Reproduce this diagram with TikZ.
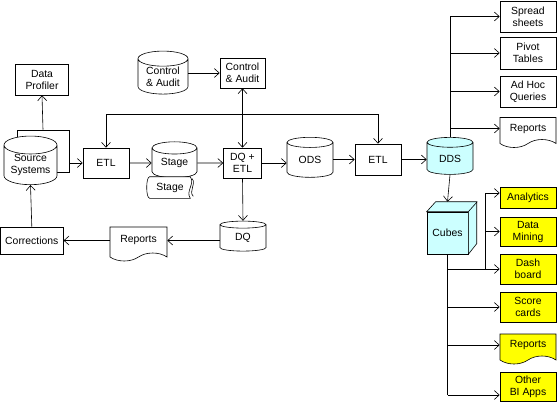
\documentclass[tikz,border=0pt]{standalone}
\usepackage{fontspec}
\setmainfont{Liberation Sans}
\usetikzlibrary{shapes.geometric,shapes.symbols,arrows.meta}
\definecolor{cubecyan}{RGB}{204,255,255}
\definecolor{appyellow}{RGB}{255,255,0}
\tikzset{
  box/.style={draw, rectangle, inner sep=0pt, align=center, fill=white},
  db/.style={draw, cylinder, shape border rotate=90, aspect=0.45, inner sep=0pt, align=center, fill=white},
  doc/.style={draw, tape, tape bend top=none, tape bend height=8pt, inner sep=0pt, align=center, fill=white},
  app/.style={box, minimum width=56pt},
}
\begin{document}
\begin{tikzpicture}[x=1pt, y=-1pt, >={Straight Barb[length=5pt,width=9pt]},
    font=\fontsize{10.4}{12}\selectfont, line width=0.6pt]
    \useasboundingbox (0,0) rectangle (557,402);

    % sources and profiling
    \node[db, minimum width=52pt, minimum height=42pt] (srcb) at (43,151) {};
    \node[db, minimum width=53pt, minimum height=40pt] (src) at (30.5,165) {Source\\Systems};
    \node[box, minimum width=53pt, minimum height=31pt] (prof) at (42,79.5) {Data\\Profiler};
    \node[box, minimum width=46pt, minimum height=30pt] (etlA) at (106,163) {ETL};

    % staging area
    \node[db, minimum width=45pt, minimum height=36pt] (stg) at (174.5,163) {Stage};
    \node[fill=white, minimum width=46pt, minimum height=21pt, inner sep=0pt] (stgdoc) at (170,187.5) {Stage};
    \draw ([xshift=3pt]stgdoc.north west) -- ([xshift=-3pt]stgdoc.north east)
        .. controls ([xshift=2pt,yshift=-7pt]stgdoc.north east) and ([xshift=-8pt,yshift=7pt]stgdoc.south east) .. ([xshift=-3pt]stgdoc.south east)
        -- ([xshift=3pt]stgdoc.south west)
        .. controls ([xshift=-1pt]stgdoc.south west) and ([xshift=-1pt]stgdoc.north west) .. cycle;
    \draw ([xshift=-1pt,yshift=-2pt]stgdoc.north east)
        .. controls ([xshift=3pt,yshift=-8pt]stgdoc.north east) and ([xshift=-5pt,yshift=7pt]stgdoc.south east) .. ([xshift=0pt,yshift=2pt]stgdoc.south east);

    % control and quality
    \node[db, minimum width=50pt, minimum height=43pt] (ctlcyl) at (163,76.5) {Control\\\& Audit};
    \node[box, minimum width=45pt, minimum height=30pt] (ctl) at (242.5,73) {Control\\\& Audit};
    \node[box, minimum width=38pt, minimum height=30pt] (dqetl) at (242.5,163) {DQ +\\ETL};
    \node[db, minimum width=46pt, minimum height=30pt] (dq) at (243,238) {DQ};
    \node[doc, minimum width=57pt, minimum height=34pt] (repC) at (138.5,240) {Reports};
    \node[box, minimum width=63pt, minimum height=27pt] (corr) at (31.8,240.5) {Corrections};

    % warehouse
    \node[db, minimum width=46pt, minimum height=40pt] (ods) at (310,160) {ODS};
    \node[box, minimum width=46pt, minimum height=31pt] (etlB) at (378,159.5) {ETL};
    \node[db, fill=cubecyan, minimum width=46pt, minimum height=37pt] (dds) at (450,158.5) {DDS};
    \coordinate (busR) at (378,114);

    % reporting tools
    \node[app, minimum height=31pt] (sprd) at (528,16.5) {Spread\\sheets};
    \node[app, minimum height=32pt] (pivot) at (528,53) {Pivot\\Tables};
    \node[app, minimum height=31pt] (adhoc) at (528,91.5) {Ad Hoc\\Queries};
    \node[doc, minimum width=56pt, minimum height=30pt] (repA) at (528,128.5) {Reports};

    % cubes and BI apps
    \node[box, fill=cubecyan, minimum width=41pt, minimum height=42pt] (cube) at (447.5,233) {Cubes};
    \draw[fill=cubecyan] (cube.north west) -- ++(9,-10) -- ++(41,0) -- ++(0,42)
        -- (cube.south east) -- (cube.north east) -- cycle;
    \draw (cube.north east) -- ++(9,-10);
    \node[app, fill=appyellow, minimum height=21pt] (anl) at (528,197.5) {Analytics};
    \node[app, fill=appyellow, minimum height=29pt] (dmin) at (528,231.5) {Data\\Mining};
    \node[app, fill=appyellow, minimum height=30pt] (dash) at (528,269) {Dash\\board};
    \node[app, fill=appyellow, minimum height=30pt] (score) at (528,307) {Score\\cards};
    \node[doc, fill=appyellow, minimum width=56pt, minimum height=30pt] (repB) at (528,345) {Reports};
    \node[app, fill=appyellow, minimum height=29pt] (other) at (528,386.5) {Other\\BI Apps};
    \coordinate (fork) at (485,269);

    % main flow
    \draw[->] (srcb.north) -- (prof.south);
    \draw[->] (etlA.west -| srcb.east) -- (etlA.west);
    \draw[->] (etlA.east) -- (stg.west);
    \draw[->] (stg.east) -- (dqetl.west);
    \draw[->] (ctl.west -| ctlcyl.east) -- (ctl.west);
    \draw[<->] (ctl.south) -- (dqetl.north);
    \draw[<->] (etlA.north) |- (busR) -- (etlB.north);
    \draw[->] (dqetl.east) -- (dqetl.east -| ods.west);
    \draw[->] (ods.east |- etlB.west) -- (etlB.west);
    \draw[->] (etlB.east) -- (etlB.east -| dds.west);

    % quality loop
    \draw[->] (dqetl.south) -- (dq.north);
    \draw[->] (dq.west |- corr.east) -- (repC.east |- corr.east);
    \draw[->] (repC.west |- corr.east) -- (corr.east);
    \draw[->] (corr.north) -- (src.south);

    % DDS fan out
    \draw (dds.north) -- (dds.north |- sprd.west);
    \foreach \n in {sprd, pivot, adhoc, repA}
        \draw[->] (dds.north |- \n.west) -- (\n.west);
    \draw[->] (dds.south) -- ([yshift=10pt]cube.north);

    % cube fan out
    \draw (cube.south) -- (cube.south |- 0,395);
    \foreach \n in {dash, score, repB}
        \draw[->] (cube.south |- \n.west) -- (\n.west);
    \draw[->] (cube.south |- 0,395) -- (other.west |- 0,395);
    \draw[->] (fork) |- (anl.west |- 0,193);
    \draw[->] (fork |- dmin.west) -- (dmin.west);
\end{tikzpicture}
\end{document}
